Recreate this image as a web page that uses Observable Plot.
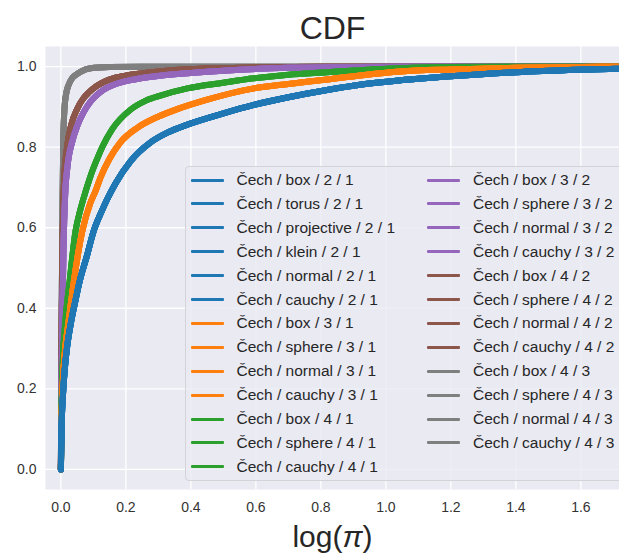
<!DOCTYPE html>
<html>
<head>
<meta charset="utf-8">
<script src="https://cdn.jsdelivr.net/npm/d3@7"></script>
<script src="https://cdn.jsdelivr.net/npm/@observablehq/plot@0.6"></script>
<style>
  html, body { margin: 0; padding: 0; background: #fff; }
  #wrap { position: relative; width: 619px; height: 553px; overflow: hidden; font-family: "Liberation Sans", Arial, sans-serif; }
  #legend { position: absolute; left: 184.5px; top: 166px; width: 460px; height: 315px; box-sizing: border-box;
    background: rgba(234,234,242,0.8); border: 1px solid #d3d3d8; border-radius: 4px; }
  .li { position: absolute; height: 24px; display: flex; align-items: center; font-size: 15.5px; color: #262626; white-space: nowrap; }
  .sw { width: 33px; height: 3px; margin-right: 13px; border-radius: 1px; }
</style>
</head>
<body>
<div id="wrap"></div>
<script>
// ---- data ----
const title = "CDF";
const xLabel = "log(π)";
const xTicks = [0, 0.2, 0.4, 0.6, 0.8, 1.0, 1.2, 1.4, 1.6];
const yTicks = [0, 0.2, 0.4, 0.6, 0.8, 1.0];

const groupKeys = ["2/1", "3/1", "4/1", "3/2", "4/2", "4/3"];
const groupColors = ["#1f77b4", "#ff7f0e", "#2ca02c", "#9467bd", "#8c564b", "#7f7f7f"];

const series21 = ["Čech / box / 2 / 1", "Čech / torus / 2 / 1", "Čech / projective / 2 / 1", "Čech / klein / 2 / 1", "Čech / normal / 2 / 1", "Čech / cauchy / 2 / 1"];
const series31 = ["Čech / box / 3 / 1", "Čech / sphere / 3 / 1", "Čech / normal / 3 / 1", "Čech / cauchy / 3 / 1"];
const series41 = ["Čech / box / 4 / 1", "Čech / sphere / 4 / 1", "Čech / cauchy / 4 / 1"];
const series32 = ["Čech / box / 3 / 2", "Čech / sphere / 3 / 2", "Čech / normal / 3 / 2", "Čech / cauchy / 3 / 2"];
const series42 = ["Čech / box / 4 / 2", "Čech / sphere / 4 / 2", "Čech / normal / 4 / 2", "Čech / cauchy / 4 / 2"];
const series43 = ["Čech / box / 4 / 3", "Čech / sphere / 4 / 3", "Čech / normal / 4 / 3", "Čech / cauchy / 4 / 3"];

const x21 = [0, 0.002, 0.006, 0.012, 0.02, 0.03, 0.045, 0.058, 0.08, 0.101, 0.125, 0.142, 0.168, 0.214, 0.276, 0.33, 0.389, 0.5, 0.594, 0.7, 0.819, 0.92, 1.045, 1.2, 1.4, 1.59, 1.72];
const y21 = [0, 0.10, 0.18, 0.25, 0.31, 0.36, 0.42, 0.468, 0.53, 0.592, 0.64, 0.67, 0.71, 0.765, 0.812, 0.837, 0.856, 0.884, 0.905, 0.924, 0.942, 0.955, 0.966, 0.976, 0.986, 0.992, 0.995];
const x31 = [0, 0.002, 0.006, 0.012, 0.024, 0.04, 0.066, 0.09, 0.106, 0.122, 0.15, 0.183, 0.235, 0.3, 0.36, 0.45, 0.594, 0.7, 0.819, 0.92, 1.045, 1.2, 1.4, 1.6, 1.72];
const y31 = [0, 0.12, 0.22, 0.29, 0.369, 0.468, 0.592, 0.66, 0.69, 0.725, 0.772, 0.812, 0.848, 0.876, 0.895, 0.918, 0.946, 0.957, 0.968, 0.978, 0.988, 0.993, 0.997, 0.999, 1.0];
const x41 = [0, 0.002, 0.006, 0.014, 0.027, 0.045, 0.06, 0.076, 0.091, 0.11, 0.127, 0.158, 0.214, 0.26, 0.306, 0.389, 0.5, 0.594, 0.7, 0.819, 0.92, 1.045, 1.2, 1.4, 1.72];
const y41 = [0, 0.15, 0.27, 0.369, 0.468, 0.592, 0.645, 0.69, 0.728, 0.768, 0.80, 0.845, 0.893, 0.915, 0.928, 0.946, 0.96, 0.971, 0.98, 0.986, 0.991, 0.996, 0.999, 1.0, 1.0];
const x32 = [0, 0.001, 0.004, 0.008, 0.013, 0.02, 0.035, 0.05, 0.07, 0.09, 0.106, 0.13, 0.163, 0.2, 0.245, 0.377, 0.5, 0.7, 0.9, 1.1, 1.72];
const y32 = [0, 0.12, 0.35, 0.55, 0.68, 0.75, 0.814, 0.852, 0.887, 0.912, 0.926, 0.942, 0.955, 0.964, 0.971, 0.983, 0.99, 0.997, 0.999, 1.0, 1.0];
const x42 = [0, 0.001, 0.003, 0.006, 0.01, 0.019, 0.032, 0.05, 0.07, 0.086, 0.11, 0.132, 0.17, 0.214, 0.3, 0.4, 0.6, 0.8, 1.72];
const y42 = [0, 0.15, 0.40, 0.60, 0.72, 0.80, 0.856, 0.895, 0.922, 0.936, 0.952, 0.962, 0.973, 0.98, 0.988, 0.994, 0.998, 1.0, 1.0];
const x43 = [0, 0.001, 0.003, 0.005, 0.007, 0.011, 0.018, 0.024, 0.035, 0.045, 0.06, 0.091, 0.15, 0.25, 1.72];
const y43 = [0, 0.20, 0.45, 0.65, 0.80, 0.897, 0.94, 0.955, 0.972, 0.979, 0.987, 0.996, 0.999, 1.0, 1.0];

// ---- build table ----
const groups = [
  {key: "2/1", names: series21, xs: x21, ys: y21},
  {key: "3/1", names: series31, xs: x31, ys: y31},
  {key: "4/1", names: series41, xs: x41, ys: y41},
  {key: "3/2", names: series32, xs: x32, ys: y32},
  {key: "4/2", names: series42, xs: x42, ys: y42},
  {key: "4/3", names: series43, xs: x43, ys: y43}
];
const rows = [];
// draw gray first, blue last
for (const g of groups.slice().reverse()) {
  for (const name of g.names) {
    g.xs.forEach((xv, i) => rows.push({series: name, group: g.key, x: xv, y: g.ys[i]}));
  }
}

const font = '"Liberation Sans", Arial, sans-serif';
const chart = Plot.plot({
  width: 619,
  height: 553,
  marginLeft: 45,
  marginRight: 0,
  marginTop: 46,
  marginBottom: 64,
  style: {fontFamily: font, background: "white"},
  x: {domain: [-0.0474, 1.7188]},
  y: {domain: [-0.05, 1.05]},
  color: {domain: groupKeys, range: groupColors},
  marks: [
    Plot.frame({fill: "#eaeaf2", stroke: null}),
    Plot.gridX(xTicks, {stroke: "white", strokeOpacity: 1, strokeWidth: 1.3}),
    Plot.gridY(yTicks, {stroke: "white", strokeOpacity: 1, strokeWidth: 1.3}),
    Plot.axisX(xTicks, {tickSize: 0, tickPadding: 13, fontSize: 14, fill: "#333", tickFormat: d => d.toFixed(1), label: null}),
    Plot.axisY(yTicks, {tickSize: 0, tickPadding: 9, fontSize: 14, fill: "#333", tickFormat: d => d.toFixed(1), label: null}),
    Plot.line(rows, {x: "x", y: "y", z: "series", stroke: "group", strokeWidth: 6, curve: "monotone-x", strokeLinejoin: "round", strokeLinecap: "round"}),
    Plot.text([title], {frameAnchor: "top", lineAnchor: "middle", dy: -18, fontSize: 32, fill: "#262626", fontFamily: font}),
    Plot.text([xLabel], {frameAnchor: "bottom", lineAnchor: "middle", dy: 48, fontSize: 30, fill: "#262626", fontFamily: font, className: "xlab"})
  ]
});

const wrap = document.getElementById("wrap");
wrap.appendChild(chart);

// italic pi in x label (mathtext style)
chart.querySelectorAll("text").forEach(t => {
  if (t.textContent === xLabel) {
    t.textContent = "";
    const ns = "http://www.w3.org/2000/svg";
    const a = document.createElementNS(ns, "tspan"); a.textContent = "log(";
    const b = document.createElementNS(ns, "tspan"); b.textContent = "π"; b.setAttribute("font-style", "italic");
    const c = document.createElementNS(ns, "tspan"); c.textContent = ")";
    t.append(a, b, c);
  }
});

// ---- legend ----
const legend = document.createElement("div");
legend.id = "legend";
const colCount1 = 13;
const allSeries = [];
groups.forEach((g, gi) => g.names.forEach(n => allSeries.push({name: n, color: groupColors[gi]})));
allSeries.forEach((s, i) => {
  const col = i < colCount1 ? 0 : 1;
  const row = col === 0 ? i : i - colCount1;
  const item = document.createElement("div");
  item.className = "li";
  item.style.left = (col === 0 ? 5 : 241.5) + "px";
  item.style.top = (1 + row * 23.9) + "px";
  const sw = document.createElement("div");
  sw.className = "sw";
  sw.style.background = s.color;
  item.appendChild(sw);
  const t = document.createElement("span");
  t.textContent = s.name;
  item.appendChild(t);
  legend.appendChild(item);
});
wrap.appendChild(legend);
</script>
</body>
</html>
